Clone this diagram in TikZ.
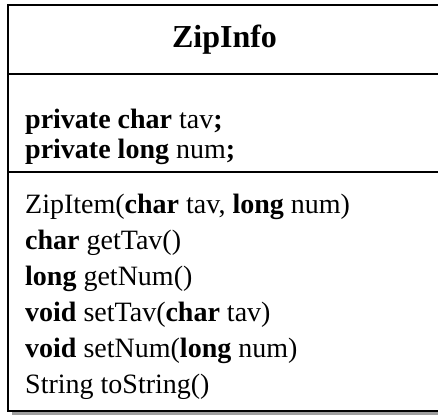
\documentclass[tikz,border=0pt]{standalone}
\usepackage{fontspec}
\setmainfont{Liberation Serif}
\usetikzlibrary{positioning}

\begin{document}
\begin{tikzpicture}[
        x=1pt, y=-1pt,
        member/.style={anchor=base west, inner sep=0pt, font=\fontsize{28}{32}\selectfont},
        classname/.style={anchor=base, inner sep=0pt, font=\fontsize{32}{38}\selectfont\bfseries},
        frame/.style={draw, line width=2.2pt},
        divider/.style={draw, line width=1.6pt}
    ]
    \useasboundingbox (0,0) rectangle (438,417);
    \clip (0,0) rectangle (438,417);
    % shadow and class box
    \fill[gray!75] (12,9) rectangle (446,415);
    \draw[frame, fill=white] (8,5) rectangle (441,411);
    \draw[divider] (8,74) -- (441,74);
    \draw[divider] (8,172) -- (441,172);
    % name
    \node[classname] (name) at (224.5,48) {ZipInfo};
    % attributes
    \node[member] (tav) at (25,128) {\textbf{private char} tav\textbf{;}};
    \node[member] (num) at (25,158) {\textbf{private long} num\textbf{;}};
    % methods
    \node[member] (ctor) at (25,213) {ZipItem(\textbf{char} tav, \textbf{long} num)};
    \node[member] (gettav) at (25,249) {\textbf{char} getTav()};
    \node[member] (getnum) at (25,285) {\textbf{long} getNum()};
    \node[member] (settav) at (25,321) {\textbf{void} setTav(\textbf{char} tav)};
    \node[member] (setnum) at (25,357) {\textbf{void} setNum(\textbf{long} num)};
    \node[member] (tostr) at (25,393) {String toString()};
\end{tikzpicture}
\end{document}
